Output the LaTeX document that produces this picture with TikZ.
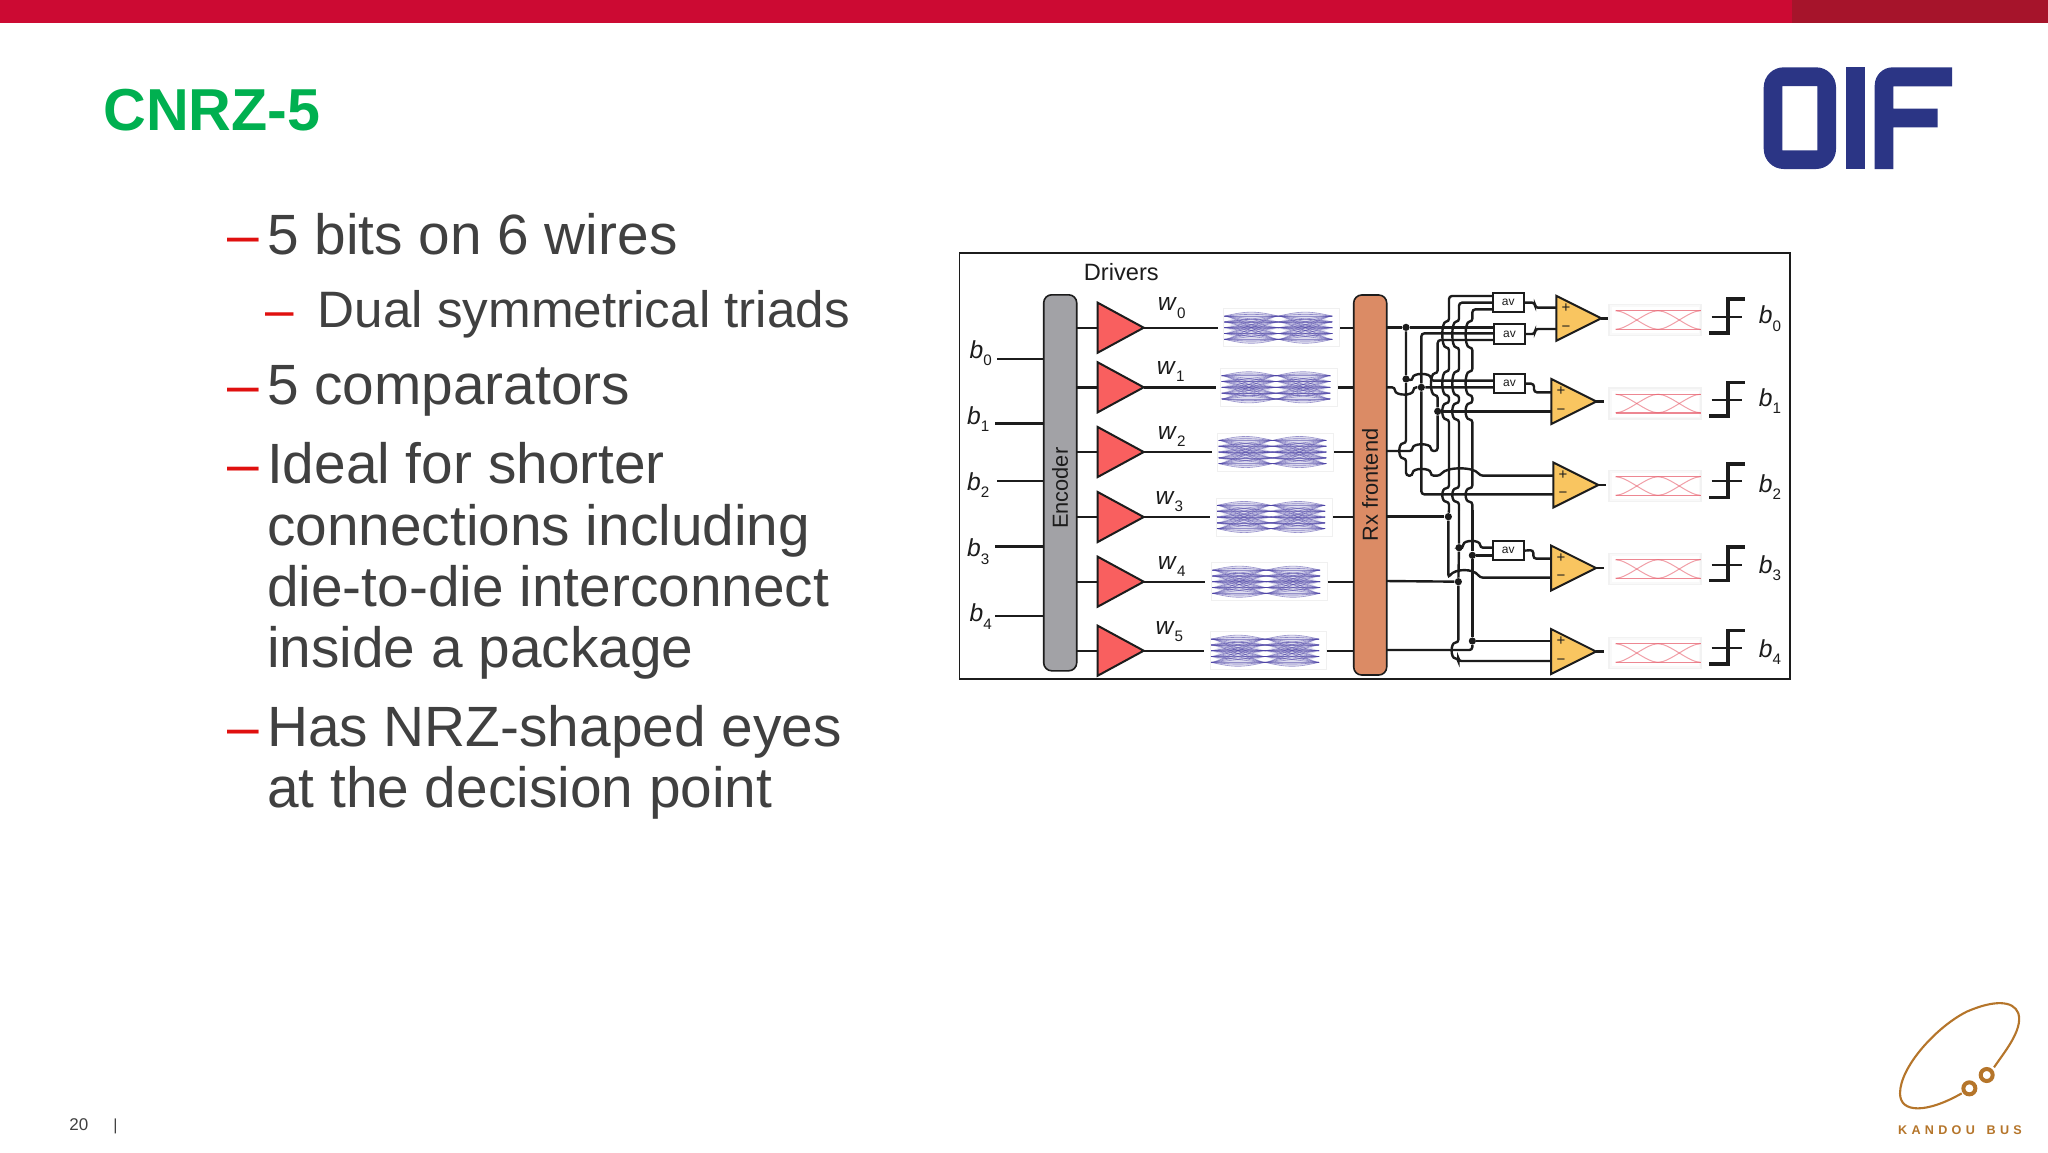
\documentclass[tikz,border=0pt]{standalone}
\usepackage{fontspec}
\setmainfont{Liberation Sans}
\newfontfamily\kfont[LetterSpace=34]{Liberation Sans}
\usetikzlibrary{shapes.geometric}
\definecolor{barred}{HTML}{CC0A33}
\definecolor{bardark}{HTML}{A6142B}
\definecolor{ttl}{HTML}{00B050}
\definecolor{bodytxt}{HTML}{404040}
\definecolor{dash}{HTML}{E0100F}
\definecolor{oif}{HTML}{2B3585}
\definecolor{kand}{HTML}{B5752A}
\definecolor{wirec}{HTML}{1C1C1C}
\definecolor{drvfill}{HTML}{F95F5F}
\definecolor{cmpfill}{HTML}{F9C560}
\definecolor{encfill}{HTML}{A2A2A6}
\definecolor{rxfill}{HTML}{DB8B65}
\definecolor{eyeblue}{HTML}{4A40A5}
\definecolor{eyered}{HTML}{E8606E}
\tikzset{
  wire/.style={draw=wirec,line width=1.2pt},
  busw/.style={draw=wirec,line width=1.2pt,rounded corners=1.5pt},
  drv/.style={isosceles triangle,isosceles triangle stretches,shape border rotate=0,draw=wirec,fill=drvfill,line width=1pt,inner sep=0pt,outer sep=0pt,minimum width=25pt,minimum height=23pt,anchor=lower side},
  cmp/.style={isosceles triangle,isosceles triangle stretches,shape border rotate=0,draw=wirec,fill=cmpfill,line width=1pt,inner sep=0pt,outer sep=0pt,minimum width=22.5pt,minimum height=22.5pt,anchor=lower side},
  bar/.style={draw=wirec,line width=.8pt,rounded corners=4pt,inner sep=0pt,outer sep=0pt},
  avbox/.style={draw=wirec,fill=white,line width=1pt,inner sep=0pt,outer sep=0pt,minimum width=15.5pt,minimum height=9.7pt,font=\fontsize{6}{7}\selectfont,text=wirec},
  jdot/.style={circle,fill=wirec,inner sep=0pt,minimum size=3.6pt},
  slot/.style={inner sep=0pt,outer sep=0pt,minimum height=1pt},
  l1/.style={anchor=base west,text=bodytxt,font=\fontsize{28.4}{34}\selectfont,inner sep=0pt},
  l1d/.style={anchor=base west,text=dash,font=\fontsize{28.4}{34}\selectfont,inner sep=0pt},
  l2/.style={anchor=base west,text=bodytxt,font=\fontsize{25.6}{30}\selectfont,inner sep=0pt},
  l2d/.style={anchor=base west,text=dash,font=\fontsize{25.6}{30}\selectfont,inner sep=0pt},
  sig/.style={inner sep=0pt,text=wirec,font=\fontsize{12.3}{14}\selectfont},
  pm/.style={inner sep=0pt,text=wirec,font=\fontsize{7.5}{8}\selectfont},
  lab/.style={inner sep=0pt,text=wirec,font=\fontsize{10.9}{12}\selectfont},
}
\newcommand\sigl[2]{\textit{#1}\raisebox{-0.3em}{\fontsize{7.6}{8}\selectfont #2}}
\newcommand\eyeplot[3]{%
  \begin{scope}[shift={(#1,#3)}]
    \pgfmathsetmacro\ew{(#2-#1)}
    \pgfmathsetmacro\eu{(\ew-8)/2}
    \draw[gray!12,line width=.3pt] (0,-19) rectangle (\ew,19);
    \foreach \ux in {0,1}{
      \pgfmathsetmacro\xa{1+\ux*\eu}
      \pgfmathsetmacro\xb{\xa+\eu}
      \pgfmathsetmacro\xc{\xa+0.42*\eu}
      \pgfmathsetmacro\xd{\xa+0.58*\eu}
      \pgfmathsetmacro\xe{\xa+0.2*\eu}
      \pgfmathsetmacro\xf{\xa+0.8*\eu}
      \pgfmathsetmacro\xg{\xa+8}
      \pgfmathsetmacro\xh{\xb-8}
      \fill[eyeblue!18] (\xa,-11.6) .. controls (\xc,-16.5) and (\xd,-16.5) .. (\xb,-11.6)
        -- (\xh,-8.7) -- (\xb,-5.8) -- (\xh,-2.9) -- (\xb,0) -- (\xh,2.9) -- (\xb,5.8) -- (\xh,8.7) -- (\xb,11.6)
        .. controls (\xd,16.5) and (\xc,16.5) .. (\xa,11.6)
        -- (\xg,8.7) -- (\xa,5.8) -- (\xg,2.9) -- (\xa,0) -- (\xg,-2.9) -- (\xa,-5.8) -- (\xg,-8.7) -- cycle;
      \foreach \a in {-2,-1,0,1,2}{
        \foreach \b in {-2,-1,0,1,2}{
          \draw[eyeblue,opacity=.5,line width=.3pt] (\xa,\a*5.8) .. controls (\xe,\a*5.8) and (\xf,\b*5.8) .. (\xb,\b*5.8);
        }
        \draw[eyeblue,opacity=.55,line width=.3pt] (\xa,\a*5.8) .. controls (\xc,\a*5.8+\a*1.9+1.5) and (\xd,\a*5.8+\a*1.9+1.5) .. (\xb,\a*5.8);
        \draw[eyeblue,opacity=.55,line width=.3pt] (\xa,\a*5.8) .. controls (\xc,\a*5.8+\a*1.9-1.5) and (\xd,\a*5.8+\a*1.9-1.5) .. (\xb,\a*5.8);
      }
    }
  \end{scope}}
\newcommand\redeye[1]{%
  \begin{scope}[shift={(1609,#1)}]
    \draw[gray!10,fill=gray!5,line width=.6pt] (0,-15.5) rectangle (92,15.5);
    \fill[white] (3,-13) rectangle (90,13);
    \foreach \xa in {6.5,49}{
      \pgfmathsetmacro\xb{\xa+42.5}
      \pgfmathsetmacro\xc{\xa+12}
      \pgfmathsetmacro\xd{\xa+30.5}
      \draw[eyered,opacity=.6,line width=.5pt] (\xa,-9.3) .. controls (\xc,-9.3) and (\xd,9.3) .. (\xb,9.3);
      \draw[eyered,opacity=.6,line width=.5pt] (\xa,9.3) .. controls (\xc,9.3) and (\xd,-9.3) .. (\xb,-9.3);
      \draw[eyered,opacity=.75,line width=.7pt] (\xa,-9.3) -- (\xb,-9.3);
      \draw[eyered,opacity=.75,line width=.7pt] (\xa,9.3) -- (\xb,9.3);
    }
  \end{scope}}
\newcommand\stepsym[1]{%
  \draw[wirec,line width=1.8pt] (1709.3,#1+16) -- (1727.7,#1+16) -- (1727.7,#1-17.7) -- (1745,#1-17.7);
  \draw[wirec,line width=1pt] (1711.7,#1) -- (1742.3,#1);}
\newcommand\vh[3]{.. controls (#1-24,#2) and (#1-24,#3) .. (#1,#3)}
\newcommand\hh[4]{.. controls (#2,#1-#4) and (#3,#1-#4) .. (#3,#1)}
\begin{document}
\begin{tikzpicture}[x=0.5pt,y=-0.5pt]
\useasboundingbox (0,0) rectangle (2048,1152);
\fill[white] (0,0) rectangle (2048,1152);
% top bar
\fill[barred] (0,0) rectangle (1792,22.7);
\fill[bardark] (1792,0) rectangle (2048,22.7);
% title and bullets
\node[anchor=base west,inner sep=0pt,text=ttl,font=\fontsize{29.6}{35}\selectfont\bfseries] (title) at (103,130.6) {CNRZ-5};
\node[l1d] (d1) at (227.5,254) {–};
\node[l1] (t1) at (266.7,254) {5 bits on 6 wires};
\node[l2d] (d2) at (265,327) {–};
\node[l2] (t2) at (317.5,327) {Dual symmetrical triads};
\node[l1d] (d3) at (227.5,404) {–};
\node[l1] (t3) at (266.7,404) {5 comparators};
\node[l1d] (d4) at (227.5,483.5) {–};
\node[l1] (t4a) at (266.7,483.5) {Ideal for shorter};
\node[l1] (t4b) at (266.7,545) {connections including};
\node[l1] (t4c) at (266.7,606) {die-to-die interconnect};
\node[l1] (t4d) at (266.7,667.5) {inside a package};
\node[l1d] (d5) at (227.5,746) {–};
\node[l1] (t5a) at (266.7,746) {Has NRZ-shaped eyes};
\node[l1] (t5b) at (266.7,807.5) {at the decision point};
% footer
\node[anchor=base west,inner sep=0pt,text=bodytxt,font=\fontsize{8.5}{10}\selectfont] (pg) at (69,1130) {20};
\node[anchor=base west,inner sep=0pt,text=bodytxt,font=\fontsize{8}{10}\selectfont] (pgbar) at (113,1130) {|};
% OIF logo
\fill[oif,even odd rule] [rounded corners=10pt] (1763.7,67.3) rectangle (1836,169) [sharp corners] (1782.3,86) rectangle (1817.3,150.3);
\fill[oif] (1846,67.3) rectangle (1864.7,169);
\fill[oif] (1874.7,169) -- (1874.7,86.3) [rounded corners=9pt] -- (1874.7,67.3) [sharp corners] -- (1952,67.3) -- (1952,86.3) -- (1893.3,86.3) -- (1893.3,108.7) -- (1937.7,108.7) -- (1937.7,127.3) -- (1893.3,127.3) -- (1893.3,169) -- cycle;
% Kandou logo
\begin{scope}[shift={(1860,980)},x=0.16667pt,y=-0.16667pt]
  \draw[kand,line width=1.05pt] (402,262) .. controls (430,220) and (490,150) .. (475,100) .. controls (460,60) and (400,60) .. (320,95) .. controls (230,140) and (120,260) .. (120,340) .. controls (120,400) and (200,400) .. (305,340);
  \draw[kand,line width=2pt] (380,285) circle (18);
  \draw[kand,line width=2pt] (328,325) circle (18);
\end{scope}
\node[inner sep=0pt,text=kand,font=\kfont\fontsize{6.3}{7}\selectfont\bfseries] (kb) at (1960,1130) {KANDOU\hspace{2pt} BUS};
% diagram frame
\draw[wirec,line width=.8pt,fill=white] (959.5,252.7) rectangle (1790,679);
\node[lab,font=\fontsize{11.8}{13}\selectfont] (drvlab) at (1121.3,272.5) {Drivers};
% bars
\node[bar,fill=encfill,minimum width=16.5pt,minimum height=188pt] (enc) at (1060.2,482.8) {};
\node[lab,rotate=90] (enclab) at (1060,488.3) {Encoder};
\node[bar,fill=rxfill,minimum width=16.5pt,minimum height=190pt] (rx) at (1370.2,485) {};
\node[lab,rotate=90] (rxlab) at (1370,485) {Rx frontend};
% bit inputs
\coordinate (in0) at (997.3,358.7);
\coordinate (in1) at (995,423.3);
\coordinate (in2) at (997.3,480.7);
\coordinate (in3) at (995,546.3);
\coordinate (in4) at (995,615.7);
\draw[wire] (in0) -- (enc.west |- in0);
\draw[wire] (in1) -- (enc.west |- in1);
\draw[wire] (in2) -- (enc.west |- in2);
\draw[wire] (in3) -- (enc.west |- in3);
\draw[wire] (in4) -- (enc.west |- in4);
\node[sig] (lb0) at (980.7,353) {\sigl{b}{0}};
\node[sig] (lb1) at (978.3,419) {\sigl{b}{1}};
\node[sig] (lb2) at (978.3,485) {\sigl{b}{2}};
\node[sig] (lb3) at (978.3,551.7) {\sigl{b}{3}};
\node[sig] (lb4) at (980.7,616.7) {\sigl{b}{4}};
% driver rows
\foreach \i/\y/\sa/\sb/\ea/\eb/\lx/\ly in {
  0/327.7/1217.7/1340/1223.3/1339.3/1171.7/308,
  1/387.3/1215.7/1338.3/1220.7/1337.3/1170.7/371.7,
  2/452/1212.3/1334.3/1217.7/1333.3/1171.7/436.7,
  3/517/1210/1333/1216/1332/1169.3/501.7,
  4/581.7/1205/1327.7/1211.3/1327/1171.7/566.7,
  5/650.7/1204/1326.7/1210/1326/1169.3/631.7}{
  \eyeplot{\ea}{\eb}{\y}
  \node[drv] (d\i) at (1097.7,\y) {};
  \pgfmathsetmacro\sc{(\sa+\sb)/2}
  \pgfmathsetmacro\sw{(\sb-\sa)*0.5}
  \node[slot,minimum width=\sw pt] (e\i) at (\sc,\y) {};
  \draw[wire] (enc.east |- d\i.lower side) -- (d\i.lower side);
  \draw[wire] (d\i.apex) -- (e\i.west);
  \draw[wire] (e\i.east) -- (rx.west |- e\i.east);
  \node[sig] (lw\i) at (\lx,\ly) {\sigl{w}{\i}};
}
% comparators
\node[cmp] (c0) at (1556.3,318.3) {};
\node[cmp] (c1) at (1551.3,401.5) {};
\node[cmp] (c2) at (1553.3,485) {};
\node[cmp] (c3) at (1551,568) {};
\node[cmp] (c4) at (1551,651.5) {};
\foreach \i/\x/\y in {0/1566/318.3,1/1561/401.5,2/1563/485,3/1561/568,4/1561/651.5}{
  \node[pm] (cp\i) at (\x,\y-10) {+};
  \node[pm] (cm\i) at (\x,\y+10) {−};
  \coordinate (co\i) at ([xshift=4pt]c\i.apex);
  \draw[wire] (c\i.apex) -- (co\i);
}
% wiring network, in zoom units
\begin{scope}[shift={(1340,270)},x=0.16667pt,y=-0.16667pt]
  \node[avbox] (avA) at (504.5,98) {av};
  \node[avbox] (avB) at (508.5,192) {av};
  \node[avbox] (avC) at (508.5,341) {av};
  \node[avbox] (avD) at (504.5,842) {av};
  \node[jdot] (jA) at (198,172) {};
  \node[jdot] (jB) at (198,327) {};
  \node[jdot] (jC) at (244,352) {};
  \node[jdot] (jD) at (293,424) {};
  \node[jdot] (jE) at (325,740) {};
  \node[jdot] (jF) at (357,833) {};
  \node[jdot] (jG) at (397,856) {};
  \node[jdot] (jH) at (355,935) {};
  \node[jdot] (jI) at (397,1113) {};
  \coordinate (rx0) at (140,172);
  \coordinate (rx1) at (140,352);
  \coordinate (rx2) at (140,543);
  \coordinate (rx3) at (140,740);
  \coordinate (rx4) at (140,933);
  \coordinate (rx5) at (140,1140);
  % Rx outputs
  \draw[busw] (rx0) -- (jA) -- (avB.west |- jA);
  \draw[busw] (rx1) -- (165,352) .. controls (165,378) and (220,378) .. (220,352) -- (jC) -- (avC.west |- jC);
  \draw[busw] (rx2) -- (218,543) \hh{543}{218}{272}{24} -- (293,543) -- (jD);
  \draw[busw] (jD) -- (293,375) .. controls (269,375) and (269,310) .. (293,310) -- (293,210) -- (463,210);
  \draw[busw] (jD) -- (c1.lower side |- jD);
  \draw[busw] (rx3) -- (jE);
  \draw[busw] (rx4) -- (jH);
  \draw[busw] (rx5) -- (335,1140) -- (397,1140) -- (jI);
  % vertical from jA
  \draw[busw] (jA) -- (jB) -- (198,520) .. controls (174,520) and (174,565) .. (198,565) -- (198,617) -- (218,617) \hh{617}{218}{272}{24} -- (300,617) .. controls (320,590) and (400,590) .. (420,617) -- (c2.lower side |- 420,617);
  \draw[busw] (jB) -- (218,332) \hh{332}{218}{272}{24} -- (463,332);
  % vertical x=244
  \draw[busw] (463,190) -- (244,190) -- (jC) -- (244,673) -- (c2.lower side |- 244,673);
  % three bus lines
  \foreach \x/\yy in {327/78,357/98,397/118}{
    \draw[busw] (458,\yy) -- (\x,\yy) -- (\x,155) \vh{\x}{155}{232} -- (\x,305) \vh{\x}{305}{375} -- (\x,400) \vh{\x}{400}{448} -- (\x,655) \vh{\x}{655}{695} -- (\x,720);
  }
  \draw[busw] (327,720) -- (jE) -- (325,923) .. controls (345,895) and (400,895) .. (420,923) -- (c3.lower side |- 420,923);
  \draw[busw] (357,720) -- (jF) -- (jH) -- (355,1118) \vh{355}{1118}{1165} -- (355,1173) -- (c4.lower side |- 355,1173);
  \draw[busw] (397,720) -- (jG) -- (jI) -- (c4.lower side |- jI);
  % av D inputs
  \draw[busw] (jF) -- (370,833) \hh{833}{370}{420}{24} -- (avD.west |- jF);
  \draw[busw] (jG) -- (avD.west |- jG);
  % av outputs
  \draw[busw] (avA.east) -- (585,98) -- (585,113) -- (c0.lower side |- 585,113);
  \draw[busw] (avB.east) -- (585,192) -- (585,177) -- (c0.lower side |- 585,177);
  \draw[busw] (avC.east) -- (582,341) -- (582,367) -- (c1.lower side |- 582,367);
  \draw[busw] (avD.east) -- (580,840) -- (580,866) -- (c3.lower side |- 580,866);
\end{scope}
% receivers
\foreach \y in {320,403.5,486,569,653}{\redeye{\y}}
\foreach \y in {316.7,400,481.4,564.5,648}{\stepsym{\y}}
\node[sig] (rb0) at (1770,318.7) {\sigl{b}{0}};
\node[sig] (rb1) at (1770,401) {\sigl{b}{1}};
\node[sig] (rb2) at (1770,487) {\sigl{b}{2}};
\node[sig] (rb3) at (1770,568) {\sigl{b}{3}};
\node[sig] (rb4) at (1770,652) {\sigl{b}{4}};
\end{tikzpicture}
\end{document}
